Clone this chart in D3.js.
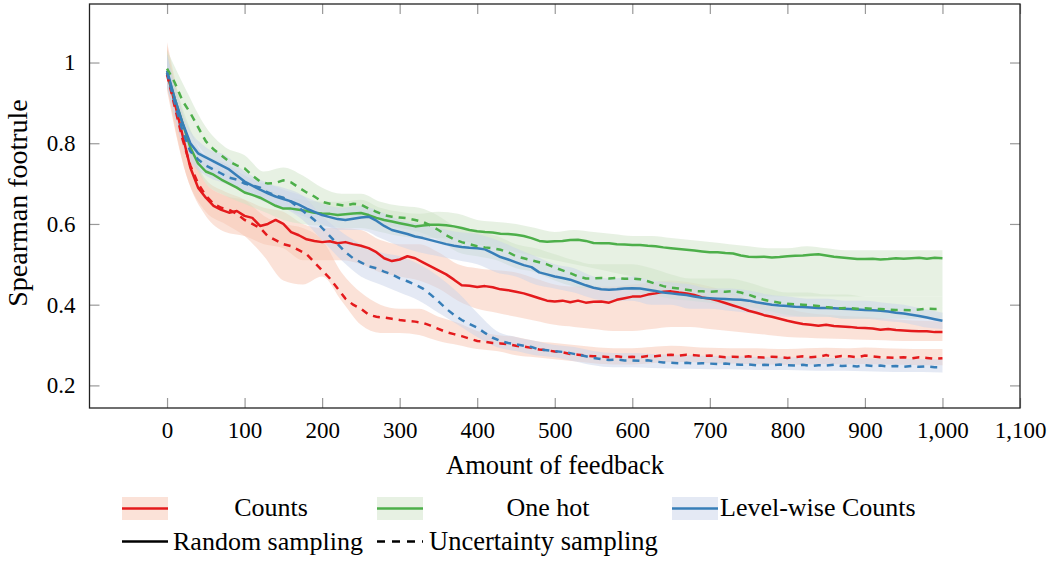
<!DOCTYPE html>
<html>
<head>
<meta charset="utf-8">
<script src="https://cdn.jsdelivr.net/npm/d3@7"></script>
<style>
  body { margin: 0; background: #fff; }
  svg text { font-family: "Liberation Serif", "Times New Roman", serif; fill: #000; }
</style>
</head>
<body>
<div id="chart"></div>
<script>
// x positions: mean curves every 10, bands every 25
const stepMean = 10, stepBand = 25;
const xTicks = [0, 100, 200, 300, 400, 500, 600, 700, 800, 900, 1000, 1100];
const yTicks = [0.2, 0.4, 0.6, 0.8, 1];

// Counts
const countsRandom = [0.975,0.90,0.82,0.74,0.69,0.665,0.645,0.635,0.628,0.632,0.62,0.615,0.595,0.60,0.61,0.60,0.58,0.572,0.562,0.558,
  0.555,0.557,0.552,0.555,0.55,0.546,0.54,0.53,0.515,0.508,0.512,0.52,0.515,0.505,0.495,0.485,0.475,0.462,0.448,0.447,
  0.444,0.446,0.443,0.438,0.436,0.432,0.428,0.422,0.416,0.41,0.408,0.41,0.406,0.41,0.405,0.407,0.408,0.405,0.412,0.416,
  0.42,0.42,0.425,0.428,0.432,0.433,0.43,0.428,0.424,0.418,0.415,0.41,0.404,0.398,0.392,0.385,0.38,0.374,0.37,0.365,
  0.36,0.356,0.352,0.35,0.348,0.35,0.347,0.346,0.345,0.343,0.342,0.341,0.338,0.34,0.337,0.336,0.335,0.334,0.334,0.332,0.332];
const countsUncert = [0.97,0.89,0.81,0.745,0.70,0.67,0.65,0.64,0.635,0.625,0.61,0.60,0.59,0.57,0.56,0.55,0.545,0.535,0.525,0.505,
  0.485,0.465,0.44,0.415,0.40,0.39,0.375,0.37,0.368,0.365,0.362,0.36,0.358,0.355,0.348,0.34,0.332,0.327,0.322,0.316,
  0.31,0.308,0.305,0.304,0.302,0.298,0.296,0.293,0.289,0.287,0.284,0.282,0.278,0.276,0.274,0.272,0.272,0.27,0.272,0.27,
  0.271,0.27,0.273,0.272,0.275,0.276,0.274,0.276,0.275,0.273,0.274,0.272,0.27,0.271,0.27,0.272,0.27,0.269,0.271,0.27,
  0.268,0.27,0.272,0.27,0.271,0.275,0.27,0.273,0.272,0.27,0.274,0.272,0.27,0.269,0.268,0.27,0.267,0.27,0.268,0.266,0.267];
const countsRandomLo = [0.94,0.72,0.62,0.58,0.57,0.55,0.54,0.51,0.51,0.51,0.50,0.48,0.47,0.46,0.44,0.41,0.39,0.38,0.37,0.36,0.35,
  0.345,0.34,0.335,0.335,0.34,0.345,0.345,0.34,0.335,0.33,0.325,0.32,0.318,0.316,0.315,0.313,0.312,0.31,0.31,0.31];
const countsRandomHi = [1.05,0.84,0.70,0.67,0.66,0.64,0.63,0.60,0.59,0.59,0.585,0.56,0.55,0.55,0.53,0.50,0.49,0.485,0.48,0.465,0.45,
  0.445,0.445,0.445,0.45,0.455,0.46,0.455,0.445,0.43,0.415,0.40,0.39,0.38,0.375,0.372,0.37,0.366,0.362,0.36,0.358];
const countsUncertLo = [0.93,0.72,0.63,0.60,0.57,0.52,0.46,0.45,0.47,0.41,0.35,0.33,0.33,0.325,0.31,0.30,0.29,0.285,0.275,0.27,0.265,
  0.26,0.255,0.252,0.252,0.255,0.258,0.258,0.255,0.254,0.253,0.252,0.251,0.252,0.253,0.252,0.253,0.252,0.251,0.25,0.25];
const countsUncertHi = [1.04,0.83,0.71,0.68,0.66,0.62,0.60,0.59,0.56,0.48,0.43,0.40,0.39,0.39,0.37,0.355,0.335,0.325,0.32,0.31,0.305,
  0.30,0.295,0.292,0.292,0.295,0.298,0.296,0.293,0.292,0.292,0.291,0.29,0.292,0.293,0.292,0.294,0.292,0.291,0.29,0.29];

// One hot
const oneHotRandom = [0.975,0.91,0.85,0.79,0.75,0.73,0.722,0.71,0.70,0.69,0.678,0.672,0.665,0.655,0.645,0.638,0.638,0.635,0.632,0.628,
  0.626,0.625,0.622,0.624,0.626,0.627,0.622,0.615,0.61,0.606,0.602,0.598,0.594,0.596,0.598,0.598,0.597,0.594,0.59,0.585,
  0.582,0.58,0.579,0.576,0.575,0.573,0.57,0.565,0.558,0.556,0.557,0.558,0.56,0.561,0.558,0.553,0.552,0.552,0.55,0.549,
  0.548,0.548,0.546,0.545,0.542,0.54,0.538,0.536,0.534,0.532,0.53,0.53,0.528,0.527,0.522,0.519,0.518,0.519,0.517,0.518,
  0.52,0.521,0.522,0.524,0.525,0.522,0.519,0.517,0.515,0.513,0.513,0.514,0.512,0.513,0.515,0.514,0.515,0.516,0.514,0.516,0.515];
const oneHotUncert = [0.985,0.95,0.905,0.875,0.84,0.805,0.785,0.77,0.755,0.745,0.738,0.72,0.705,0.70,0.702,0.708,0.703,0.69,0.678,0.668,
  0.655,0.65,0.648,0.645,0.65,0.648,0.638,0.63,0.622,0.618,0.616,0.614,0.61,0.605,0.596,0.585,0.572,0.562,0.555,0.55,
  0.545,0.542,0.54,0.536,0.53,0.52,0.515,0.51,0.505,0.50,0.492,0.485,0.478,0.47,0.465,0.465,0.466,0.465,0.466,0.464,
  0.465,0.463,0.458,0.452,0.446,0.442,0.44,0.437,0.434,0.433,0.432,0.433,0.432,0.434,0.43,0.425,0.418,0.412,0.408,0.405,
  0.402,0.401,0.40,0.398,0.397,0.394,0.392,0.391,0.392,0.39,0.391,0.39,0.389,0.388,0.387,0.387,0.386,0.388,0.39,0.389,0.39];
const oneHotRandomLo = [0.94,0.79,0.70,0.67,0.65,0.63,0.61,0.60,0.595,0.59,0.59,0.58,0.57,0.565,0.565,0.56,0.55,0.54,0.53,0.52,0.51,
  0.50,0.49,0.48,0.47,0.46,0.45,0.44,0.43,0.425,0.42,0.42,0.42,0.42,0.42,0.42,0.42,0.42,0.42,0.42,0.42];
const oneHotRandomHi = [1.02,0.86,0.76,0.73,0.71,0.69,0.67,0.66,0.655,0.655,0.66,0.64,0.63,0.625,0.63,0.625,0.61,0.605,0.60,0.59,0.58,
  0.585,0.58,0.575,0.57,0.57,0.565,0.56,0.555,0.55,0.545,0.54,0.54,0.545,0.54,0.535,0.535,0.535,0.535,0.535,0.535];
const oneHotUncertLo = [0.95,0.84,0.77,0.72,0.70,0.67,0.67,0.65,0.63,0.62,0.62,0.60,0.59,0.58,0.56,0.53,0.52,0.51,0.49,0.48,0.46,
  0.445,0.44,0.44,0.435,0.425,0.415,0.41,0.405,0.40,0.395,0.385,0.375,0.37,0.37,0.365,0.365,0.365,0.365,0.365,0.365];
const oneHotUncertHi = [1.03,0.93,0.84,0.79,0.77,0.73,0.74,0.72,0.69,0.675,0.675,0.655,0.645,0.64,0.62,0.59,0.58,0.57,0.55,0.54,0.525,
  0.51,0.50,0.50,0.50,0.49,0.475,0.465,0.465,0.465,0.455,0.44,0.43,0.43,0.425,0.425,0.42,0.42,0.42,0.42,0.42];

// Level-wise Counts
const levelRandom = [0.98,0.91,0.85,0.80,0.775,0.765,0.755,0.745,0.735,0.72,0.705,0.695,0.685,0.676,0.668,0.662,0.656,0.648,0.638,0.63,
  0.622,0.617,0.612,0.61,0.613,0.616,0.618,0.608,0.595,0.585,0.58,0.575,0.569,0.565,0.56,0.555,0.55,0.546,0.543,0.541,
  0.54,0.537,0.528,0.518,0.512,0.505,0.498,0.493,0.48,0.475,0.47,0.466,0.462,0.455,0.448,0.442,0.438,0.437,0.438,0.44,
  0.441,0.44,0.437,0.434,0.43,0.428,0.426,0.424,0.42,0.417,0.416,0.415,0.414,0.413,0.412,0.41,0.406,0.403,0.40,0.398,
  0.397,0.395,0.394,0.393,0.392,0.392,0.391,0.39,0.389,0.388,0.387,0.386,0.385,0.383,0.38,0.378,0.375,0.372,0.368,0.364,0.36];
const levelUncert = [0.975,0.90,0.83,0.78,0.76,0.745,0.735,0.725,0.715,0.71,0.70,0.695,0.69,0.678,0.67,0.665,0.655,0.64,0.625,0.61,
  0.59,0.57,0.55,0.53,0.515,0.505,0.495,0.49,0.482,0.475,0.465,0.458,0.45,0.44,0.425,0.408,0.39,0.375,0.362,0.352,
  0.343,0.33,0.318,0.31,0.305,0.302,0.298,0.295,0.289,0.287,0.285,0.283,0.28,0.276,0.272,0.268,0.265,0.263,0.264,0.262,
  0.262,0.261,0.262,0.259,0.257,0.256,0.255,0.256,0.254,0.255,0.254,0.253,0.254,0.252,0.251,0.252,0.25,0.251,0.25,0.252,
  0.25,0.249,0.251,0.248,0.25,0.249,0.251,0.248,0.249,0.247,0.25,0.248,0.249,0.247,0.248,0.246,0.248,0.246,0.247,0.245,0.245];
const levelRandomLo = [0.94,0.80,0.73,0.71,0.68,0.655,0.64,0.62,0.60,0.585,0.585,0.565,0.545,0.53,0.52,0.51,0.50,0.48,0.47,0.45,0.44,
  0.43,0.415,0.41,0.41,0.40,0.40,0.39,0.39,0.385,0.38,0.375,0.37,0.37,0.37,0.365,0.365,0.36,0.355,0.345,0.34];
const levelRandomHi = [1.02,0.85,0.79,0.77,0.73,0.705,0.685,0.67,0.65,0.64,0.645,0.63,0.61,0.60,0.59,0.58,0.575,0.56,0.54,0.52,0.50,
  0.49,0.47,0.465,0.47,0.46,0.455,0.45,0.44,0.44,0.435,0.425,0.42,0.415,0.415,0.41,0.41,0.405,0.40,0.39,0.38];
const levelUncertLo = [0.94,0.77,0.72,0.70,0.68,0.66,0.64,0.61,0.56,0.51,0.47,0.45,0.43,0.41,0.38,0.35,0.32,0.295,0.285,0.275,0.27,
  0.26,0.25,0.245,0.245,0.243,0.242,0.241,0.24,0.24,0.239,0.238,0.238,0.237,0.236,0.236,0.235,0.234,0.233,0.233,0.232];
const levelUncertHi = [1.02,0.83,0.77,0.75,0.72,0.70,0.69,0.67,0.62,0.58,0.55,0.53,0.52,0.50,0.47,0.43,0.38,0.335,0.32,0.31,0.30,
  0.295,0.285,0.28,0.28,0.278,0.276,0.275,0.273,0.272,0.271,0.27,0.27,0.269,0.268,0.268,0.267,0.266,0.266,0.265,0.265];

const series = [
  {name: "Counts", color: "#e41a1c", band: "#f7c5b1", rand: countsRandom, unc: countsUncert,
   randLo: countsRandomLo, randHi: countsRandomHi, uncLo: countsUncertLo, uncHi: countsUncertHi},
  {name: "One hot", color: "#4daf4a", band: "#cfe3c7", rand: oneHotRandom, unc: oneHotUncert,
   randLo: oneHotRandomLo, randHi: oneHotRandomHi, uncLo: oneHotUncertLo, uncHi: oneHotUncertHi},
  {name: "Level-wise Counts", color: "#377eb8", band: "#c9d3e9", rand: levelRandom, unc: levelUncert,
   randLo: levelRandomLo, randHi: levelRandomHi, uncLo: levelUncertLo, uncHi: levelUncertHi}
];

var W = 1060, H = 561;
var pLeft = 89.5, pRight = 1020, pTop = 4, pBottom = 408;

var svg = d3.select("#chart").append("svg")
    .attr("width", W).attr("height", H);

var x = d3.scaleLinear().domain([-100, 1100]).range([pLeft, pRight]);
var y = d3.scaleLinear().domain([0.144, 1.145]).range([pBottom, pTop]);

svg.append("clipPath").attr("id", "clip")
    .append("rect").attr("x", pLeft).attr("y", pTop)
    .attr("width", pRight - pLeft).attr("height", pBottom - pTop);
var inner = svg.append("g").attr("clip-path", "url(#clip)");

var line = d3.line()
    .x(function(d, i) { return x(i * stepMean); })
    .y(function(d) { return y(d); });

var area = d3.area()
    .x(function(d) { return x(d.i * stepBand); })
    .y0(function(d) { return y(d.lo); })
    .y1(function(d) { return y(d.hi); })
    .curve(d3.curveMonotoneX);

function bandData(lo, hi) {
    return lo.map(function(v, i) { return {i: i, lo: v, hi: hi[i]}; });
}

// bands
series.forEach(function(s) {
    inner.append("path").datum(bandData(s.randLo, s.randHi))
        .attr("d", area).attr("fill", s.band).attr("fill-opacity", 0.5);
    inner.append("path").datum(bandData(s.uncLo, s.uncHi))
        .attr("d", area).attr("fill", s.band).attr("fill-opacity", 0.5);
});

// lines
series.forEach(function(s) {
    inner.append("path").datum(s.rand)
        .attr("d", line).attr("fill", "none").attr("stroke", s.color)
        .attr("stroke-width", 2.5).attr("stroke-linejoin", "round");
});
series.forEach(function(s) {
    inner.append("path").datum(s.unc)
        .attr("d", line).attr("fill", "none").attr("stroke", s.color)
        .attr("stroke-width", 2.5).attr("stroke-dasharray", "7,6");
});

// axes (ticks inside, on all four sides)
var tickColor = "#999";
function styleAxis(g) {
    g.select(".domain").remove();
    g.selectAll(".tick line").attr("stroke", tickColor).attr("stroke-width", 1.2);
    g.selectAll(".tick text").style("font-size", "23px").style("font-family", '"Liberation Serif", serif');
}

svg.append("g").attr("transform", "translate(0," + pBottom + ")")
    .call(d3.axisBottom(x).tickValues(xTicks).tickSize(-10).tickPadding(14).tickFormat(d3.format(",")))
    .call(styleAxis);
svg.append("g").attr("transform", "translate(0," + pTop + ")")
    .call(d3.axisTop(x).tickValues(xTicks).tickSize(-10).tickFormat(""))
    .call(styleAxis);
svg.append("g").attr("transform", "translate(" + pLeft + ",0)")
    .call(d3.axisLeft(y).tickValues(yTicks).tickSize(-10).tickPadding(14).tickFormat(d3.format("")))
    .call(styleAxis);
svg.append("g").attr("transform", "translate(" + pRight + ",0)")
    .call(d3.axisRight(y).tickValues(yTicks).tickSize(-10).tickFormat(""))
    .call(styleAxis);

svg.append("rect")
    .attr("x", pLeft).attr("y", pTop)
    .attr("width", pRight - pLeft).attr("height", pBottom - pTop)
    .attr("fill", "none").attr("stroke", "#222").attr("stroke-width", 1.3);

// axis labels
svg.append("text")
    .attr("x", 555).attr("y", 474)
    .attr("text-anchor", "middle")
    .style("font-size", "26.5px")
    .text("Amount of feedback");

svg.append("text")
    .attr("transform", "translate(27,203)rotate(-90)")
    .attr("text-anchor", "middle")
    .style("font-size", "28px")
    .text("Spearman footrule");

// legend
var legend = svg.append("g");
var legX = [122, 377, 672];
var legTextX = [271, 548, 720];
series.forEach(function(s, i) {
    legend.append("rect")
        .attr("x", legX[i]).attr("y", 497).attr("width", 46).attr("height", 23)
        .attr("fill", s.band).attr("fill-opacity", 0.5);
    legend.append("line")
        .attr("x1", legX[i]).attr("x2", legX[i] + 46).attr("y1", 508.5).attr("y2", 508.5)
        .attr("stroke", s.color).attr("stroke-width", 2.4);
    legend.append("text")
        .attr("x", legTextX[i]).attr("y", 516)
        .attr("text-anchor", i < 2 ? "middle" : "start")
        .style("font-size", "26px")
        .text(s.name);
});

legend.append("line")
    .attr("x1", 122).attr("x2", 168).attr("y1", 541.5).attr("y2", 541.5)
    .attr("stroke", "#000").attr("stroke-width", 2.4);
legend.append("text").attr("x", 173).attr("y", 550).style("font-size", "26px").text("Random sampling");
legend.append("line")
    .attr("x1", 377).attr("x2", 423).attr("y1", 541.5).attr("y2", 541.5)
    .attr("stroke", "#000").attr("stroke-width", 2.4).attr("stroke-dasharray", "8,7");
legend.append("text").attr("x", 429).attr("y", 550).style("font-size", "26.5px").text("Uncertainty sampling");
</script>
</body>
</html>
